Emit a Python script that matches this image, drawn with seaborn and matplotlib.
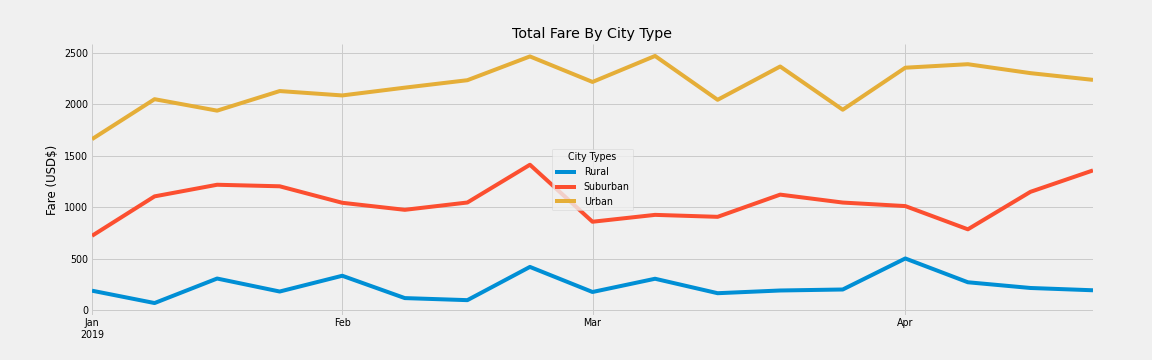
import numpy as np
import pandas as pd
import matplotlib
matplotlib.use('agg')
import matplotlib.pyplot as plt
import seaborn as sns

# weekly total fares (week ending Sunday)
weeks = pd.date_range("2019-01-06", "2019-04-28", freq="W-SUN")
rural = [187.92, 67.65, 306.00, 179.69, 333.08, 115.80, 95.82, 419.06, 175.14,
         303.94, 163.39, 189.76, 199.42, 501.24, 269.79, 214.14, 191.85]
suburban = [721.60, 1105.13, 1218.20, 1203.28, 1042.79, 974.34, 1045.50, 1412.74, 858.46,
            925.27, 906.20, 1122.20, 1045.06, 1010.73, 784.82, 1149.27, 1357.75]
urban = [1661.68, 2050.43, 1939.02, 2129.51, 2086.94, 2162.64, 2235.07, 2466.29, 2218.20,
         2470.93, 2044.42, 2368.37, 1947.91, 2356.70, 2390.72, 2303.80, 2238.29]
city_types = ["Rural", "Suburban", "Urban"]
tick_dates = ["2019-01-06", "2019-02-03", "2019-03-03", "2019-04-07"]
tick_labels = ["Jan\n2019", "Feb", "Mar", "Apr"]

df = pd.DataFrame({"date": np.tile(weeks, 3),
                   "fare": rural + suburban + urban,
                   "City Types": np.repeat(city_types, len(weeks))})

plt.style.use('fivethirtyeight')
plt.rcParams['font.family'] = ['DejaVu Sans']

fig = plt.figure(figsize=(16, 5), dpi=72)
fig.patch.set_facecolor('#f0f0f0')
ax = fig.add_axes([92/1152, 1-315.4/360, (1093-92)/1152, (315.4-43.6)/360])
ax.set_facecolor('#f0f0f0')

sns.lineplot(data=df, x="date", y="fare", hue="City Types", ax=ax,
             palette=["#008fd5", "#fc4f30", "#e5ae38"], linewidth=4)

ax.set_xlim(weeks[0], weeks[-1])
ax.set_xticks(pd.to_datetime(tick_dates))
ax.set_xticklabels(tick_labels, fontsize=9.5)
ax.tick_params(axis='y', labelsize=9.5, length=0, pad=4)
ax.tick_params(axis='x', length=0, pad=3)
ax.grid(True, color='#cbcbcb', linewidth=1)
for s in ax.spines.values():
    s.set_visible(False)

ax.set_title("Total Fare By City Type", fontsize=14.2, pad=6)
ax.set_xlabel("")
ax.set_ylabel("Fare (USD$)", fontsize=11.7, labelpad=5)

leg = ax.legend(title="City Types", loc="center", fontsize=9.5, title_fontsize=9.5,
                handlelength=2.2, framealpha=0.8, facecolor='#f0f0f0', edgecolor='#cccccc')

plt.savefig("out.png", dpi=72, facecolor='#f0f0f0')
